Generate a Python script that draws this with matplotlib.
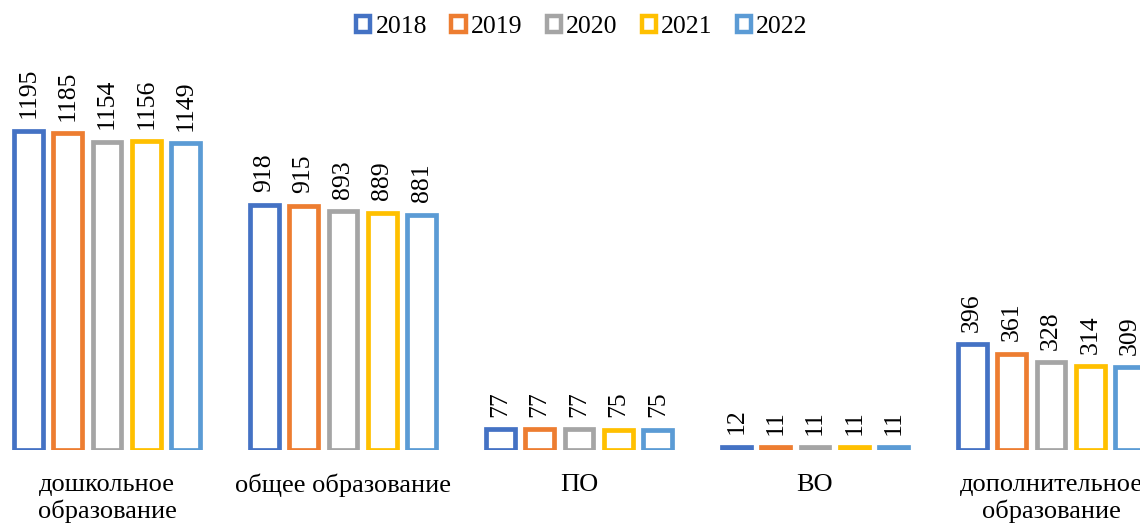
import matplotlib
matplotlib.use("Agg")
import matplotlib.pyplot as plt
from matplotlib.patches import Patch
import numpy as np

plt.rcParams['font.family'] = ['Liberation Serif', 'DejaVu Serif']

categories = ["дошкольное\nобразование", "общее образование", "ПО", "ВО", "дополнительное\nобразование"]
years = ["2018", "2019", "2020", "2021", "2022"]
values = {
    "2018": [1195, 918, 77, 12, 396],
    "2019": [1185, 915, 77, 11, 361],
    "2020": [1154, 893, 77, 11, 328],
    "2021": [1156, 889, 75, 11, 314],
    "2022": [1149, 881, 75, 11, 309],
}
colors = ["#4472C4", "#ED7D31", "#A5A5A5", "#FFC000", "#5B9BD5"]

W, H = 1140, 526
fig = plt.figure(figsize=(W / 100, H / 100), dpi=100)
left_px, right_px = -11, 1169
base_px = 450
top_px = 76
ax = fig.add_axes([left_px / W, (H - base_px) / H, (right_px - left_px) / W, (base_px - top_px) / H])

x = np.arange(len(categories))
pitch = 0.167
bw = 0.122
lw = 3.4
for i, (yr, c) in enumerate(zip(years, colors)):
    xs = x + (i - 2) * pitch
    vals = values[yr]
    ax.bar(xs, vals, width=bw, facecolor="white", edgecolor=c, linewidth=lw, zorder=3)
    for xi, v in zip(xs, vals):
        ax.annotate(str(v), (xi, v), xytext=(0, 9), textcoords="offset points",
                    rotation=90, ha="center", va="bottom", fontsize=18.5)

ax.set_xlim(-0.5, len(categories) - 0.5)
ax.set_ylim(0, 1400)
ax.set_xticks(x)
ax.set_xticklabels(categories, fontsize=19, linespacing=1.2)
ax.tick_params(axis="x", length=0, pad=17)
ax.set_yticks([])
for s in ax.spines.values():
    s.set_visible(False)

handles = [Patch(facecolor="white", edgecolor=c, linewidth=3.2, label=yr) for yr, c in zip(years, colors)]
fig.legend(handles=handles, loc="center", bbox_to_anchor=(582 / W, 1 - 27 / H), ncol=5,
           frameon=False, fontsize=18.5, handlelength=0.55, handleheight=0.55,
           handletextpad=0.2, columnspacing=0.95)

fig.savefig("out.png", dpi=100)
